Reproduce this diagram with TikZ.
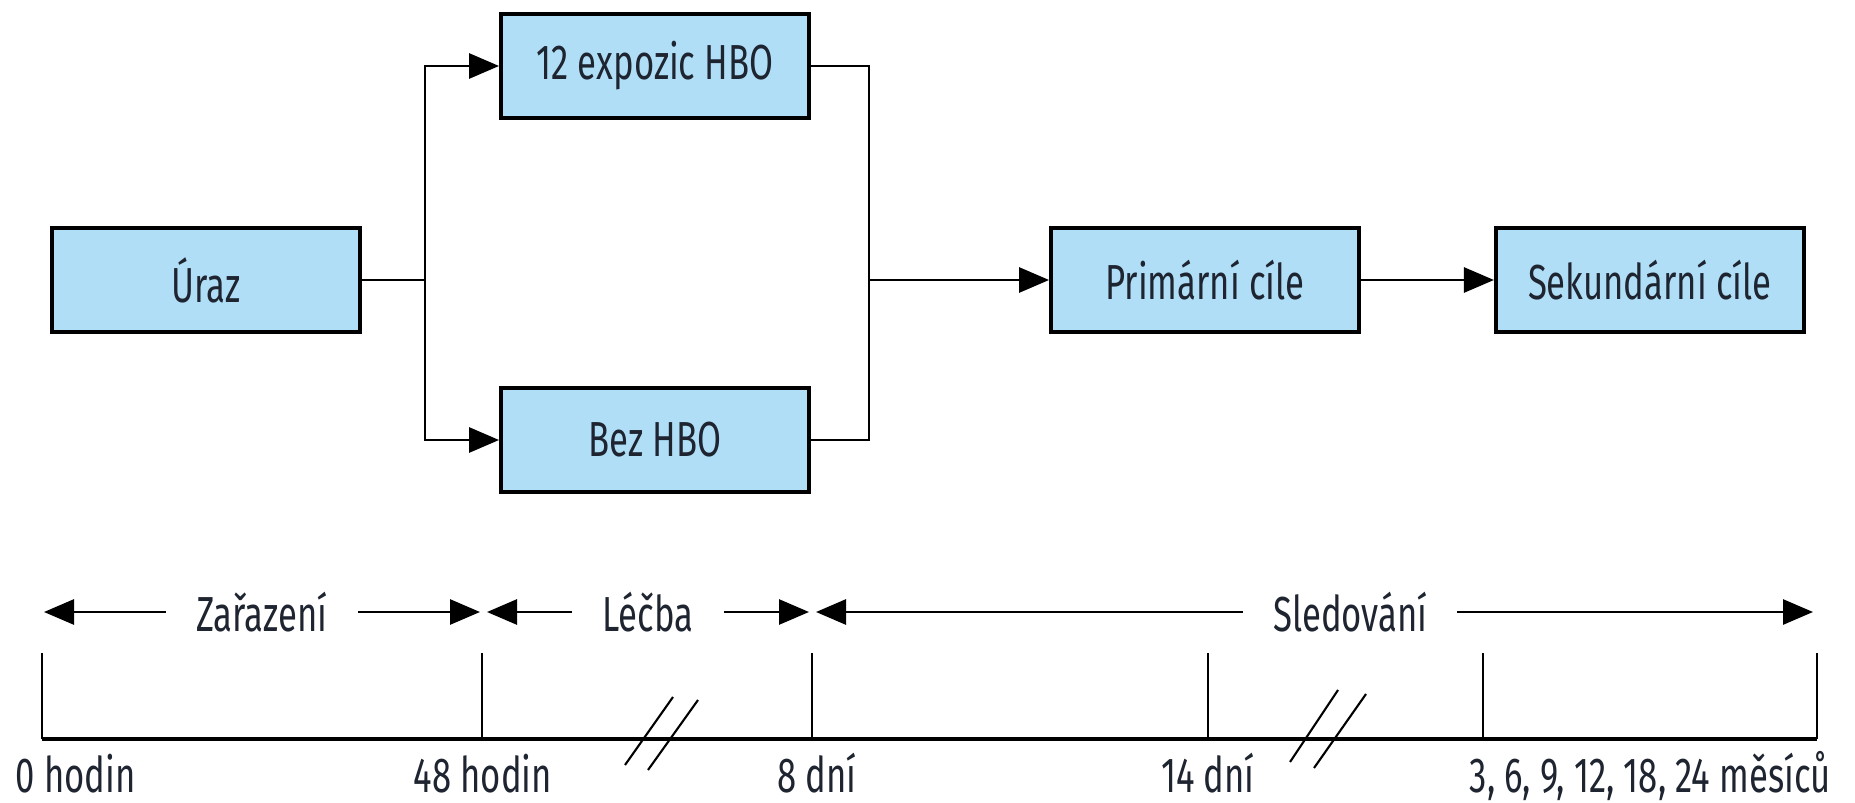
\documentclass[tikz,border=0pt]{standalone}
\usepackage{fontspec}
\setmainfont[FakeStretch=0.705]{Fira Sans}
\usepackage{tikz}
\usetikzlibrary{arrows.meta,positioning,calc}
\definecolor{boxblue}{RGB}{176,222,247}
\definecolor{inkdark}{RGB}{30,36,48}

\begin{document}
\begin{tikzpicture}[x=0.1mm, y=-0.1mm,
      stage/.style={draw, fill=boxblue, line width=1.1pt, minimum width=3.08cm, minimum height=1.04cm,
        font=\fontsize{14}{16}\selectfont, text=inkdark},
      wire/.style={line width=0.8pt},
      flow/.style={-{Triangle[length=3mm,width=2.5mm]}, line width=0.8pt},
      phasearrow/.style={{Triangle[length=3mm,width=2.5mm]}-{Triangle[length=3mm,width=2.5mm]}, line width=0.8pt},
      phase/.style={fill=white, inner xsep=3mm, font=\fontsize{14}{16}\selectfont, text=inkdark},
      tickline/.style={line width=0.6pt},
      timeaxis/.style={line width=1.4pt},
      breakline/.style={line width=0.6pt},
      when/.style={anchor=base, inner sep=0pt, font=\fontsize{14}{16}\selectfont, text=inkdark}
    ]
      \useasboundingbox (0,0) rectangle (1855,802);

      % Study arms
      \node[stage] (uraz) at (206,280) {Úraz};
      \node[stage] (hbo) at (655,66) {12 expozic HBO};
      \node[stage] (bez) at (655,440) {Bez HBO};
      \node[stage] (prim) at (1205,280) {Primární cíle};
      \node[stage, right=1.33cm of prim] (sek) {Sekundární cíle};

      % Connectors
      \coordinate (split) at (425,280);
      \coordinate (join) at (869,280);
      \draw[wire] (uraz.east) -- (split);
      \draw[flow] (split) |- (hbo.west);
      \draw[flow] (split) |- (bez.west);
      \draw[wire] (hbo.east) -| (join) |- (bez.east);
      \draw[flow] (join) -- (prim.west);
      \draw[flow] (prim.east) -- (sek.west);

      % Time axis
      \coordinate (t0) at (42,739);
      \coordinate (t48) at (482,739);
      \coordinate (t8) at (812,739);
      \coordinate (t14) at (1208,739);
      \coordinate (t3) at (1483,739);
      \coordinate (tend) at (1817,739);
      \draw[timeaxis] (t0) -- (tend);
      \foreach \t in {t0,t48,t8,t14,t3,tend}
        \draw[tickline] (\t) -- ++(0,-86);
      \draw[breakline] (625,765) -- (673,697) (648,770) -- (698,700);
      \draw[breakline] (1290,762) -- (1338,690) (1314,768) -- (1366,694);

      % Phases
      \coordinate (a0) at (44,612);
      \coordinate (a48l) at (480,612);
      \coordinate (a48r) at (487,612);
      \coordinate (a8l) at (809,612);
      \coordinate (a8r) at (816,612);
      \coordinate (aend) at (1813,612);
      \draw[phasearrow] (a0) -- node[phase] (zar) {Zařazení} (a48l);
      \draw[phasearrow] (a48r) -- node[phase] (lec) {Léčba} (a8l);
      \draw[phasearrow] (a8r) -- node[phase, pos=0.536] (sle) {Sledování} (aend);

      % Time labels
      \node[when, anchor=base west] (l0) at (15,792) {0 hodin};
      \node[when] (l48) at (483,792) {48 hodin};
      \node[when] (l8) at (817,792) {8 dní};
      \node[when] (l14) at (1208,792) {14 dní};
      \node[when, anchor=base west] (l3) at (1469,792) {3, 6, 9, 12, 18, 24 měsíců};
    \end{tikzpicture}
\end{document}
